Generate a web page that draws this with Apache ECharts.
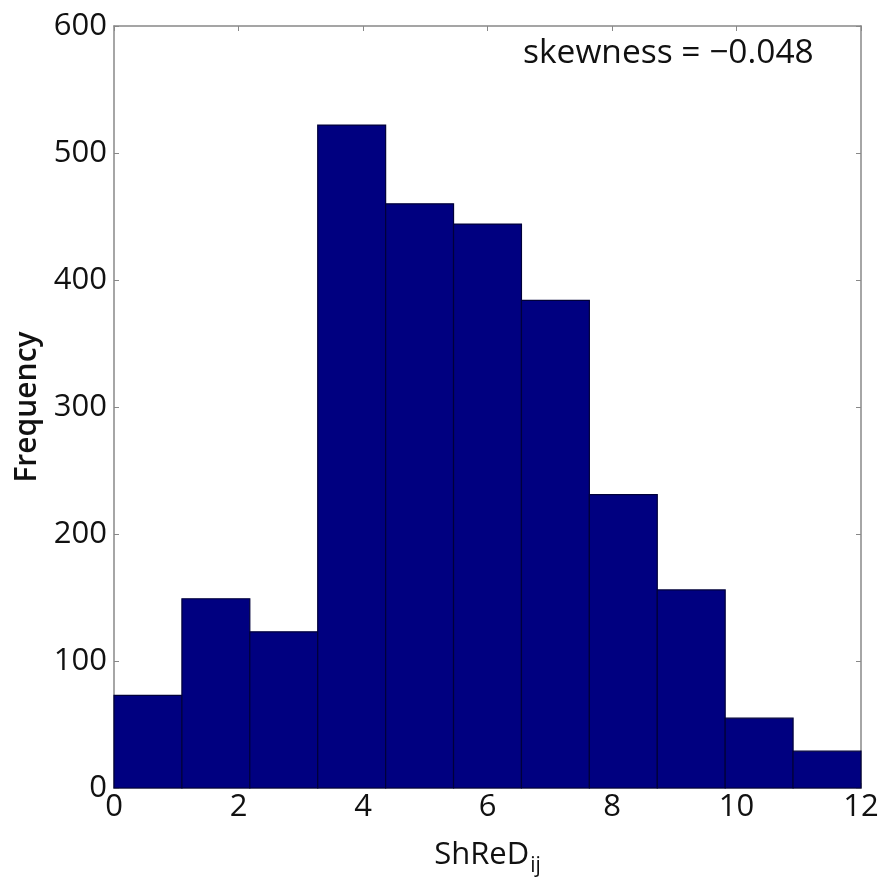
<!DOCTYPE html>
<html><head><meta charset="utf-8">
<script src="https://cdn.jsdelivr.net/npm/echarts@6/dist/echarts.min.js"></script>
<style>html,body{margin:0;padding:0;background:#fff}#c{width:886px;height:880px}</style>
</head><body><div id="c"></div>
<script>
// Histogram bin edges (11 equal-width bins over 0..12)
var binEdges = [0, 1.0909, 2.1818, 3.2727, 4.3636, 5.4545, 6.5455, 7.6364, 8.7273, 9.8182, 10.9091, 12];
var frequencies = [73, 149, 123, 522, 460, 444, 384, 231, 156, 55, 29];
var xTicks = [0, 2, 4, 6, 8, 10, 12];
var yTicks = [0, 100, 200, 300, 400, 500, 600];
var annotation = 'skewness = \u22120.048';

var FONT = 'Open Sans';
var data = frequencies.map(function (v, i) { return [binEdges[i], binEdges[i + 1], v]; });
var chart = echarts.init(document.getElementById('c'));
var axisLine = { show: true, onZero: false, lineStyle: { color: '#888', width: 1.5 } };
var tick = { show: true, inside: true, length: 5, lineStyle: { color: '#888', width: 1 } };
chart.setOption({
  animation: false,
  grid: { left: 114, right: 25, top: 26, bottom: 92, containLabel: false, outerBoundsMode: 'none' },
  xAxis: [{
    type: 'value', min: xTicks[0], max: xTicks[xTicks.length - 1], interval: 2, position: 'bottom',
    axisLine: axisLine, axisTick: tick, splitLine: { show: false },
    axisLabel: { fontFamily: FONT, fontSize: 31, color: '#111', margin: 4 },
    name: '{m|ShReD}{s|ij}', nameLocation: 'middle', nameGap: 46,
    nameTextStyle: { rich: {
      m: { fontFamily: FONT, fontSize: 31, color: '#111' },
      s: { fontFamily: FONT, fontSize: 21, color: '#111', padding: [22, 0, 0, 1] }
    } }
  }, {
    type: 'value', min: 0, max: 12, interval: 2, position: 'top',
    axisLine: axisLine, axisTick: tick, axisLabel: { show: false }, splitLine: { show: false }
  }],
  yAxis: [{
    type: 'value', min: yTicks[0], max: yTicks[yTicks.length - 1], interval: 100, position: 'left',
    axisLine: axisLine, axisTick: tick, splitLine: { show: false },
    axisLabel: { fontFamily: FONT, fontSize: 31, color: '#111', margin: 7 },
    name: 'Frequency', nameLocation: 'middle', nameGap: 70,
    nameTextStyle: { fontFamily: FONT, fontSize: 30, color: '#111', fontWeight: 600 }
  }, {
    type: 'value', min: 0, max: 600, interval: 100, position: 'right',
    axisLine: axisLine, axisTick: tick, axisLabel: { show: false }, splitLine: { show: false }
  }],
  series: [{
    type: 'custom',
    renderItem: function (params, api) {
      var p0 = api.coord([api.value(0), 0]);
      var p1 = api.coord([api.value(1), api.value(2)]);
      return {
        type: 'rect',
        shape: { x: p0[0], y: p1[1], width: p1[0] - p0[0], height: p0[1] - p1[1] },
        style: { fill: '#000080', stroke: '#00003a', lineWidth: 1.2 }
      };
    },
    encode: { x: [0, 1], y: 2 },
    data: data
  }],
  graphic: [{
    type: 'text', left: 523, top: 36,
    style: { text: annotation, fontFamily: FONT, fontSize: 33.5, fill: '#111' }
  }]
});
</script></body></html>
